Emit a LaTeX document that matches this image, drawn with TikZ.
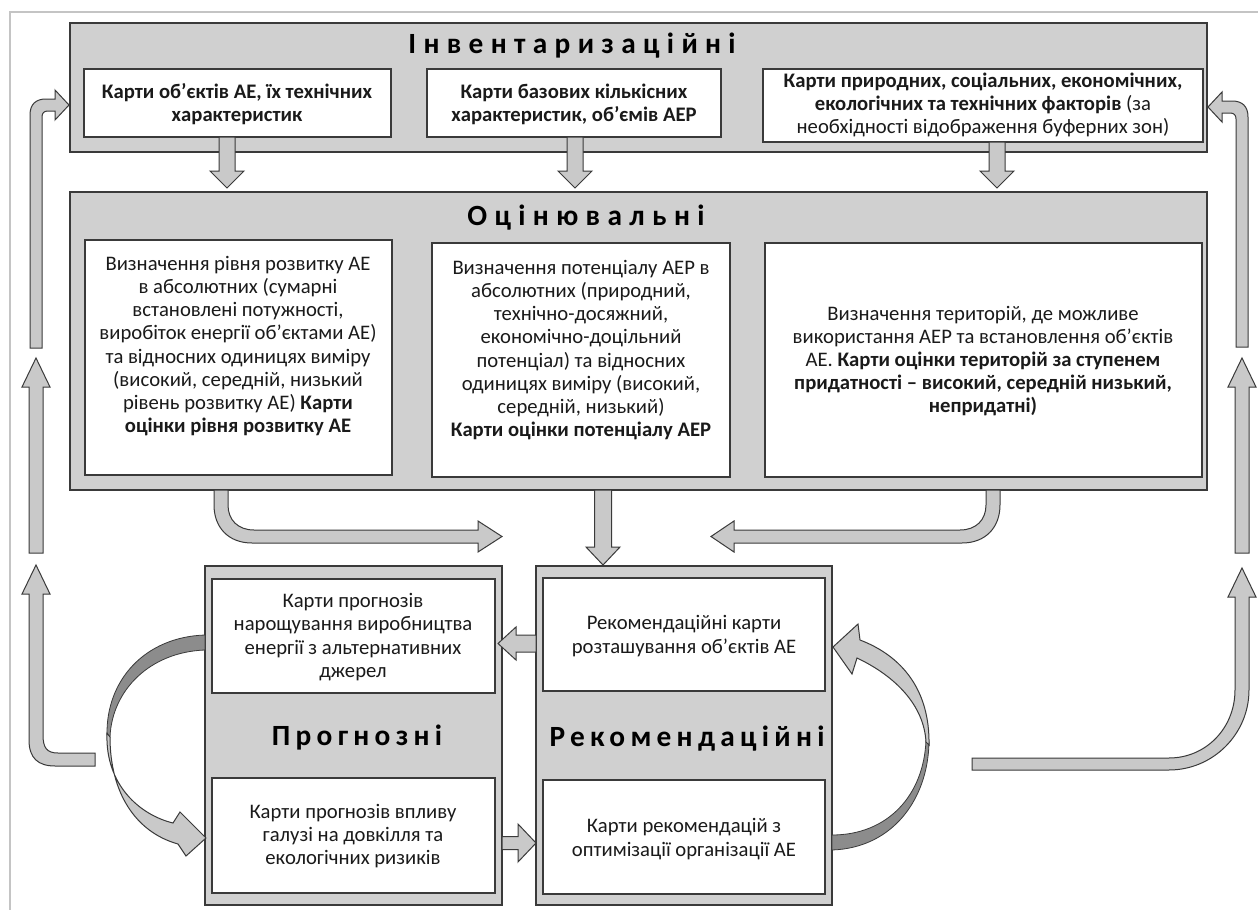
\documentclass[tikz,border=0pt]{standalone}
\usepackage{fontspec}
\setmainfont{Carlito}
\usetikzlibrary{fit}
\definecolor{pan}{HTML}{D0D0D0}
\definecolor{edge}{HTML}{3A3A3A}
\definecolor{arr}{HTML}{C9C9C9}
\definecolor{arrdark}{HTML}{8C8C8C}
\definecolor{framec}{HTML}{C4C4C4}
\definecolor{ink}{HTML}{1A1A1A}
\tikzset{
  panel/.style={fill=pan, draw=edge, line width=0.9pt, inner sep=0pt},
  wbox/.style={fill=white, draw=edge, line width=0.9pt, inner sep=0pt},
  txt/.style={align=center, font=\fontsize{15.5}{17.4}\selectfont, text=ink, inner sep=0pt},
  ttl/.style={font=\fontsize{22}{24}\selectfont\bfseries\addfontfeature{LetterSpace=25}, text=black, inner sep=0pt, anchor=base},
  ttlb/.style={ttl, font=\fontsize{22}{24}\selectfont\bfseries\addfontfeature{LetterSpace=18}},
  barrow/.style={fill=arr, draw=edge, line width=0.75pt, line join=miter},
  darrow/.style={fill=arrdark, draw=edge, line width=0.6pt},
}
\newcommand{\vArrow}[6]{%
  \draw[barrow] ({#1-#5},#2) -- ({#1-#5},#3) -- ({#1-#6},#3) -- (#1,#4) -- ({#1+#6},#3) -- ({#1+#5},#3) -- ({#1+#5},#2) -- cycle;}
\newcommand{\hArrow}[6]{%
  \draw[barrow] (#2,{#1-#5}) -- (#3,{#1-#5}) -- (#3,{#1-#6}) -- (#4,#1) -- (#3,{#1+#6}) -- (#3,{#1+#5}) -- (#2,{#1+#5}) -- cycle;}
\begin{document}
\begin{tikzpicture}[x=0.75pt,y=-0.75pt]
\useasboundingbox (0,0) rectangle (1258,910);
\fill[white] (0,0) rectangle (1258,910);
\draw[framec, line width=1.1pt] (10,910) -- (10,12) -- (1258,12);

% ---------- panel 1 ----------
\node[panel, fit={(70,23) (1207,152)}] (P1) {};
\node[ttl] (T1) at (572,53) {Інвентаризаційні};
\node[wbox, fit={(84,69) (391,137)}] (B1) {};
\node[wbox, fit={(427,69) (721,137)}] (B2) {};
\node[wbox, fit={(763,69) (1203,142)}] (B3) {};
\node[txt] (t1) at (237,104) {\bfseries Карти об'єктів АЕ, їх технічних\\\bfseries характеристик};
\node[txt] (t2) at (574,104) {\bfseries Карти базових кількісних\\\bfseries характеристик, об'ємів АЕР};
\node[txt] (t3) at (983,105) {\bfseries Карти природних, соціальних, економічних,\\\textbf{екологічних та технічних факторів} (за\\необхідності відображення буферних зон)};

% arrows panel1 -> panel2
\vArrow{227}{137}{171}{188}{8}{17}
\vArrow{575}{137}{171}{188}{8}{17}
\vArrow{997}{142}{171}{188}{8}{17}

% ---------- panel 2 ----------
\node[panel, fit={(70,192) (1207,490)}] (P2) {};
\node[ttl] (T2) at (586,225) {Оцінювальні};
\node[wbox, fit={(85,240) (392,475)}] (A) {};
\node[wbox, fit={(432,243) (730,477)}] (B) {};
\node[wbox, fit={(765,243) (1202,477)}] (C) {};
\node[txt] (tA) at (238,346) {Визначення рівня розвитку АЕ\\в абсолютних (сумарні\\встановлені потужності,\\виробіток енергії об'єктами АЕ)\\та відносних одиницях виміру\\(високий, середній, низький\\рівень розвитку АЕ) \textbf{Карти}\\\textbf{оцінки рівня розвитку АЕ}};
\node[txt] (tB) at (581,350) {Визначення потенціалу АЕР в\\абсолютних (природний,\\технічно-досяжний,\\економічно-доцільний\\потенціал) та відносних\\одиницях виміру (високий,\\середній, низький)\\\textbf{Карти оцінки потенціалу АЕР}};
\node[txt] (tC) at (983,361) {Визначення територій, де можливе\\використання АЕР та встановлення об'єктів\\АЕ. \textbf{Карти оцінки територій за ступенем}\\\textbf{придатності – високий, середній низький,}\\\textbf{непридатні)}};

% curved arrows panel2 -> centre
\draw[barrow] (214,490) -- (214,505) .. controls (214,527) and (228,543) .. (252,543) -- (478,543) -- (478,552) -- (502,536.5) -- (478,521) -- (478,530) -- (254,530) .. controls (238,530) and (228,520) .. (228,505) -- (228,490) -- cycle;
\draw[barrow] (1000,490) -- (1000,505) .. controls (1000,527) and (986,543) .. (962,543) -- (734,543) -- (734,552) -- (711,536.5) -- (734,521) -- (734,530) -- (960,530) .. controls (976,530) and (986,520) .. (986,505) -- (986,490) -- cycle;
\vArrow{603}{490}{547}{565}{8.5}{17}

% ---------- panel 3 (prognostic) ----------
\node[panel, fit={(205,566) (502,905)}] (P3) {};
\node[wbox, fit={(212,579) (495,693)}] (PU) {};
\node[wbox, fit={(212,778) (495,893)}] (PL) {};
\node[ttlb] (T3) at (357,745) {Прогнозні};
\node[txt] (tPU) at (353,637) {Карти прогнозів\\нарощування виробництва\\енергії з альтернативних\\джерел};
\node[txt] (tPL) at (353,836) {Карти прогнозів впливу\\галузі на довкілля та\\екологічних ризиків};

% ---------- panel 4 (recommendation) ----------
\node[panel, fit={(536,566) (832,905)}] (P4) {};
\node[wbox, fit={(543,578) (825,691)}] (RU) {};
\node[wbox, fit={(543,780) (825,894)}] (RL) {};
\node[ttlb] (T4) at (687,746) {Рекомендаційні};
\node[txt] (tRU) at (684,636) {Рекомендаційні карти\\розташування об'єктів АЕ};
\node[txt] (tRL) at (684,839) {Карти рекомендацій з\\оптимізації організації АЕ};

% arrows between bottom panels
\hArrow{643.5}{536}{516}{498}{8.5}{16.5}
\hArrow{843}{502}{518}{536}{6.5}{19}

% C-arrow left of prognostic panel
\draw[darrow] (205,635) .. controls (145,637) and (106,680) .. (107,735) -- (110,737) .. controls (112,690) and (150,652) .. (205,650) -- cycle;
\draw[barrow] (107,733) .. controls (105,785) and (140,815) .. (173,823) -- (180,812) -- (206,838) -- (186,856) -- (178,844) .. controls (135,832) and (110,792) .. (110,737) -- cycle;

% C-arrow right of recommendation panel
\draw[darrow] (832,850) .. controls (892,848) and (928,800) .. (929,742) -- (926,740) .. controls (924,795) and (888,835) .. (832,835) -- cycle;
\draw[barrow] (929,745) .. controls (930,690) and (902,656) .. (860,640) -- (858,624) -- (833,647) -- (852,674) -- (857,658) .. controls (895,676) and (924,705) .. (926,742) -- cycle;

% ---------- side arrows ----------
% left
\draw[barrow] (30,348) -- (30,115) .. controls (30,104) and (36,99) .. (46,99) -- (55,99) -- (55,90) -- (69,105) -- (55,120) -- (55,111) -- (48,111) .. controls (44,111) and (42,113) .. (42,117) -- (42,348) -- cycle;
\vArrow{36}{553}{387}{358}{7}{14}
\draw[barrow] (22,594) -- (36,565) -- (50,594) -- (43,594) -- (43,735) .. controls (43,748) and (47,753) .. (58,753) -- (95,753) -- (95,766) -- (55,766) .. controls (38,766) and (29,758) .. (29,740) -- (29,594) -- cycle;
% right
\draw[barrow] (1248,347) -- (1248,117) .. controls (1248,106) and (1242,101) .. (1232,101) -- (1222,101) -- (1222,92) -- (1208,107) -- (1222,122) -- (1222,113) -- (1230,113) .. controls (1234,113) and (1236,115) .. (1236,119) -- (1236,347) -- cycle;
\vArrow{1242}{553}{387}{358}{7}{14}
\draw[barrow] (1228,597) -- (1242,568) -- (1256,597) -- (1249,597) -- (1249,690) .. controls (1249,734) and (1213,770) .. (1169,770) -- (972,770) -- (972,758) -- (1169,758) .. controls (1206,758) and (1235,728) .. (1235,690) -- (1235,597) -- cycle;
\end{tikzpicture}
\end{document}
